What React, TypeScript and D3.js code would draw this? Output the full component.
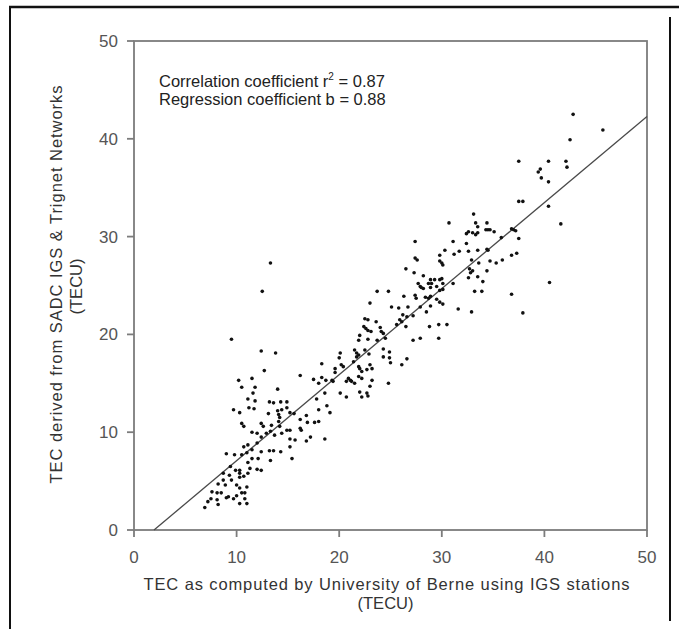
import React from 'react';
import * as d3 from 'd3';

// Axis ticks
const xTicks = [0, 10, 20, 30, 40, 50];
const yTicks = [0, 10, 20, 30, 40, 50];

// Regression: y = b * (x - x0)
const regressionSlope = 0.88;
const regressionXIntercept = 1.95;

const annotationLines = ['Correlation coefficient r', 'Regression coefficient b = 0.88'];
const xTitle = ['TEC as computed by University of Berne using IGS stations', '(TECU)'];
const yTitle = ['TEC derived from SADC IGS & Trignet Networks', '(TECU)'];

// [TEC Berne, TEC SADC] pairs, grouped by region of the cloud
const lowCluster: [number, number][] = [
  [12.7, 16.3], [11.5, 15.5], [10.2, 15.3], [10.5, 14.6], [16.2, 15.8], [17.5, 15.4], [18.0, 15.0], [18.3, 15.6], [18.7, 15.3], [19.6, 16.1],
  [11.8, 14.6], [14.0, 14.4], [11.6, 14.0], [18.6, 14.0], [11.1, 13.4], [11.8, 13.2], [13.2, 13.1], [13.6, 13.0], [14.3, 13.1], [14.9, 13.1],
  [17.8, 13.4], [11.2, 12.5], [11.7, 12.4], [14.0, 12.2], [14.4, 12.3], [14.9, 12.5], [9.7, 12.3], [10.3, 12.0], [13.1, 11.9], [14.1, 11.8],
  [14.2, 11.5], [15.2, 12.0], [15.6, 11.9], [18.0, 12.3], [18.8, 12.7], [19.1, 12.0], [16.8, 11.7], [16.2, 11.3], [16.9, 11.0], [17.6, 11.0],
  [18.0, 11.1], [10.5, 10.9], [10.7, 10.6], [12.4, 10.9], [12.6, 10.6], [13.4, 10.7], [14.1, 11.1], [14.2, 10.6], [14.9, 10.2], [15.2, 10.2],
  [16.3, 10.2], [16.2, 10.4], [11.5, 10.0], [12.0, 9.9], [12.4, 9.5], [12.9, 9.9], [13.3, 10.1], [13.7, 9.7], [14.4, 9.9], [15.2, 9.3],
  [15.7, 9.2], [16.8, 9.1], [17.2, 9.5], [18.6, 9.3], [10.7, 8.5], [11.1, 8.7], [11.5, 8.2], [12.0, 8.9], [12.4, 8.0], [13.2, 8.1],
  [13.6, 8.1], [14.3, 8.0], [15.2, 8.5], [9.0, 7.8], [9.8, 7.7], [10.5, 7.7], [11.0, 7.9], [11.5, 7.3], [11.1, 6.9], [12.1, 7.3],
  [13.3, 7.1], [15.4, 7.3], [9.4, 6.5], [9.9, 6.1], [10.3, 6.1], [11.3, 6.3], [12.0, 6.2], [12.4, 6.1], [11.1, 5.8], [8.7, 5.8],
  [9.3, 5.6], [10.3, 5.8], [10.7, 5.5], [8.7, 5.1], [9.5, 5.1], [10.3, 5.4], [8.2, 4.7], [8.9, 4.6], [10.0, 4.6], [10.3, 4.3],
  [11.0, 4.4], [7.6, 3.9], [8.1, 3.8], [8.5, 3.8], [9.0, 3.3], [9.2, 3.4], [10.0, 3.5], [10.5, 3.8], [10.8, 3.8], [7.5, 3.2],
  [7.2, 2.9], [8.1, 3.1], [9.7, 3.2], [10.8, 3.2], [6.9, 2.3], [8.2, 2.6], [10.3, 2.7], [11.0, 2.7],
];

const outliersLow: [number, number][] = [
  [13.3, 27.3], [12.5, 24.4], [9.5, 19.5], [12.4, 18.3], [13.8, 18.1], [18.3, 17.0],
];

const midCluster: [number, number][] = [
  [23.7, 24.4], [24.8, 24.4], [23.0, 23.2], [22.5, 21.6], [22.8, 21.5], [23.6, 21.3], [22.4, 20.8], [22.6, 20.6], [22.8, 20.4], [23.1, 20.3],
  [24.0, 20.7], [24.1, 20.3], [24.3, 20.1], [22.0, 19.9], [21.9, 19.4], [22.8, 19.5], [23.7, 19.4], [24.5, 19.6], [21.5, 18.4], [21.7, 18.1],
  [21.9, 17.9], [22.5, 18.4], [22.9, 18.0], [24.3, 18.5], [24.9, 18.2], [24.3, 17.7], [24.9, 17.6], [25.0, 17.1], [20.1, 18.1], [20.0, 17.6],
  [19.6, 16.5], [20.2, 16.9], [20.4, 16.7], [21.4, 17.2], [21.7, 17.7], [21.9, 16.7], [22.0, 16.5], [23.0, 16.9], [23.2, 16.5], [22.7, 16.4],
  [22.2, 16.2], [20.9, 15.5], [21.1, 15.3], [20.7, 15.2], [21.2, 15.2], [21.9, 15.7], [22.2, 15.5], [21.5, 15.0], [23.2, 15.3], [23.0, 14.7],
  [24.8, 15.0], [22.0, 14.1], [22.7, 14.0], [22.2, 13.6], [22.8, 13.7], [20.1, 14.0], [20.7, 13.6], [19.3, 15.3], [19.4, 15.2],
  [27.2, 19.4], [27.9, 19.6], [29.7, 19.6], [26.6, 17.5], [26.1, 16.9],
];

const upperCluster: [number, number][] = [
  [33.1, 32.3], [30.7, 31.4], [33.3, 31.4], [33.5, 31.0], [32.4, 30.3], [32.6, 30.5], [33.0, 30.4], [33.3, 30.2], [33.5, 30.4], [27.4, 29.5],
  [31.1, 29.5], [32.4, 29.3], [31.7, 28.5], [31.2, 28.2], [32.6, 28.5], [33.5, 28.6], [30.3, 28.6], [29.8, 28.1], [27.4, 27.8], [27.6, 27.6],
  [29.8, 27.5], [30.0, 27.3], [30.1, 27.1], [32.9, 27.6], [33.6, 27.3], [26.5, 26.7], [27.3, 26.3], [28.2, 26.0], [32.7, 26.7], [32.8, 26.3],
  [33.0, 26.5], [32.6, 25.8], [33.5, 25.9], [28.9, 25.6], [29.3, 25.6], [29.8, 25.6], [30.0, 25.7], [30.1, 25.2], [27.7, 25.2], [27.9, 24.9],
  [28.0, 24.8], [28.2, 24.7], [28.7, 25.2], [28.9, 24.8], [29.0, 25.2], [29.5, 24.9], [29.8, 24.5], [30.1, 24.6], [31.1, 25.2], [33.2, 24.4],
  [26.3, 23.9], [27.4, 24.0], [27.5, 23.7], [28.4, 23.8], [28.7, 23.7], [28.9, 23.9], [29.5, 23.6], [29.8, 23.3], [30.1, 23.1], [25.1, 22.8],
  [25.8, 22.7], [26.7, 22.8], [27.9, 22.8], [28.9, 22.9], [28.5, 22.3], [31.6, 22.6], [32.9, 22.3], [37.9, 22.2], [26.2, 22.0], [26.6, 21.8],
  [27.2, 21.9], [25.9, 21.5], [26.1, 21.3], [25.6, 21.0], [26.5, 20.8], [28.8, 20.8], [29.7, 21.0], [30.5, 21.0],
];

const highCluster: [number, number][] = [
  [42.8, 42.5], [45.7, 40.9], [42.5, 39.9], [37.5, 37.7], [40.4, 37.7], [42.1, 37.7], [42.2, 37.1], [39.6, 36.9], [39.4, 36.6], [39.7, 36.0],
  [40.4, 35.6], [37.5, 33.6], [37.9, 33.6], [40.4, 33.1], [41.6, 31.3], [34.4, 31.4], [34.3, 30.7], [34.5, 30.7], [34.7, 30.7], [35.1, 30.5],
  [36.8, 30.8], [37.0, 30.7], [37.2, 30.6], [35.8, 29.9], [37.5, 29.8], [34.4, 28.7], [34.5, 28.6], [36.8, 28.1], [37.3, 28.3], [34.7, 27.5],
  [35.9, 27.6], [35.3, 27.3], [34.4, 26.5], [34.0, 25.4], [40.5, 25.3], [33.9, 24.4], [36.8, 24.1],
];

const FONT = '"Liberation Sans", Arial, Helvetica, sans-serif';

export default function App() {
  const x = d3.scaleLinear().domain([0, 50]).range([134, 647]);
  const y = d3.scaleLinear().domain([0, 50]).range([530, 41]);
  const allPoints = [...lowCluster, ...outliersLow, ...midCluster, ...upperCluster, ...highCluster];
  const line = d3.line<[number, number]>().x(d => x(d[0])).y(d => y(d[1]));
  const regPts: [number, number][] = [
    [regressionXIntercept, 0],
    [50, regressionSlope * (50 - regressionXIntercept)],
  ];
  const frameColor = '#7c7c7c';
  const tickLen = 7;
  const yMid = (y(0) + y(50)) / 2;
  const xMid = (x(0) + x(50)) / 2;

  return (
    <svg
      width={679}
      height={629}
      style={{ position: 'absolute', left: 0, top: 0, background: '#fff' }}
      fontFamily={FONT}
    >
      <rect x={0} y={0} width={679} height={629} fill="#fff" />
      {/* outer page frame */}
      <line x1={9} y1={7} x2={679} y2={7} stroke="#111" strokeWidth={2.5} />
      <line x1={10} y1={6} x2={10} y2={629} stroke="#111" strokeWidth={2} />
      <line x1={670} y1={17} x2={670} y2={621} stroke="#111" strokeWidth={2} />

      {/* plot box */}
      <rect
        x={x(0)}
        y={y(50)}
        width={x(50) - x(0)}
        height={y(0) - y(50)}
        fill="none"
        stroke={frameColor}
        strokeWidth={1.8}
      />
      {yTicks.map(t => (
        <g key={'yt' + t}>
          <line x1={x(0) - tickLen} x2={x(0)} y1={y(t)} y2={y(t)} stroke={frameColor} strokeWidth={1.8} />
          <text x={x(0) - 16} y={y(t) + 6} textAnchor="end" fontSize={17} fill="#555">
            {t}
          </text>
        </g>
      ))}
      {xTicks.map(t => (
        <g key={'xt' + t}>
          <line x1={x(t)} x2={x(t)} y1={y(0)} y2={y(0) + tickLen} stroke={frameColor} strokeWidth={1.8} />
          <text x={x(t)} y={y(0) + 33} textAnchor="middle" fontSize={17} fill="#555">
            {t}
          </text>
        </g>
      ))}

      {/* regression line */}
      <path d={line(regPts) || ''} fill="none" stroke="#4a4a4a" strokeWidth={1.3} />

      {/* points */}
      {allPoints.map((p, i) => (
        <circle key={i} cx={x(p[0])} cy={y(p[1])} r={1.8} fill="#111" />
      ))}

      {/* annotation */}
      <text x={159} y={86.5} fontSize={16.5} fill="#222">
        {annotationLines[0]}
        <tspan fontSize={10} dy={-7}>2</tspan>
        <tspan dy={7}> = 0.87</tspan>
      </text>
      <text x={159} y={104.5} fontSize={16.5} fill="#222">
        {annotationLines[1]}
      </text>

      {/* x title */}
      <text
        x={xMid - 4}
        y={590}
        textAnchor="middle"
        fontSize={16.5}
        fill="#333"
        textLength={486}
        lengthAdjust="spacing"
      >
        {xTitle[0]}
      </text>
      <text x={xMid - 5} y={609} textAnchor="middle" fontSize={16.5} fill="#333">
        {xTitle[1]}
      </text>

      {/* y title */}
      <text
        transform={`translate(61.5,${yMid - 1}) rotate(-90)`}
        textAnchor="middle"
        fontSize={16.5}
        fill="#333"
        textLength={398}
        lengthAdjust="spacing"
      >
        {yTitle[0]}
      </text>
      <text
        transform={`translate(81.5,${yMid + 1}) rotate(-90)`}
        textAnchor="middle"
        fontSize={16.5}
        fill="#333"
      >
        {yTitle[1]}
      </text>
    </svg>
  );
}
